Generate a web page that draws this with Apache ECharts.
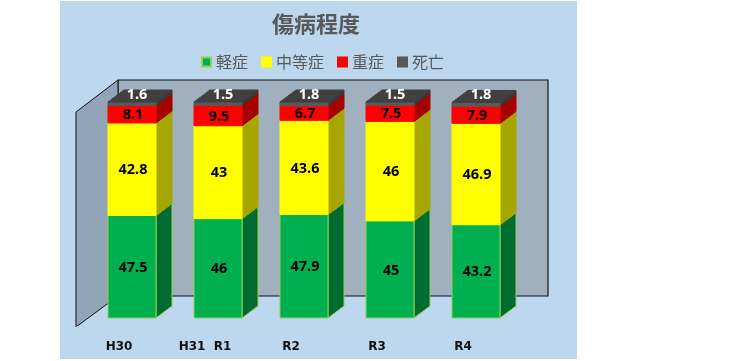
<!DOCTYPE html>
<html><head><meta charset="utf-8">
<style>html,body{margin:0;padding:0;background:#fff}#c{width:732px;height:361px}</style>
<script src="https://cdn.jsdelivr.net/npm/echarts@6/dist/echarts.min.js"></script>
</head><body><div id="c"></div>
<script>
var categories = ['H30', 'H31  R1', 'R2', 'R3', 'R4'];
var seriesNames = ['軽症', '中等症', '重症', '死亡'];
var mild = [47.5, 46, 47.9, 45, 43.2];
var moderate = [42.8, 43, 43.6, 46, 46.9];
var severe = [8.1, 9.5, 6.7, 7.5, 7.9];
var death = [1.6, 1.5, 1.8, 1.5, 1.8];
var values = [mild, moderate, severe, death];
var frontColors = ['#00B050', '#FFFF00', '#FF0000', '#595959'];
var sideColors = ['#006C31', '#A6A600', '#A60000', '#383838'];
var borderColors = ['#92D050', '#FFFF00', '#FF0000', '#595959'];
var labelColors = ['#000', '#000', '#000', '#fff'];

var BAR_W = 48, DX = 16, DY = 12, BAR_SHIFT = 13;
var font = '"Noto Sans CJK JP","Noto Sans",sans-serif';

function poly(points, fill, stroke, z) {
  return { type: 'polygon', z2: z || 0, shape: { points: points },
    style: { fill: fill, stroke: stroke || fill, lineWidth: 1 } };
}
function barRender(si) {
  return function (params, api) {
    var idx = api.value(0), base = api.value(2), top = base + api.value(1);
    var c0 = api.coord([idx, base]), c1 = api.coord([idx, top]);
    var x0 = Math.round(c0[0] + BAR_SHIFT - BAR_W / 2), x1 = x0 + BAR_W, yb = c0[1], yt = c1[1];
    var children = [
      poly([[x1, yb], [x1 + DX, yb - DY], [x1 + DX, yt - DY], [x1, yt]], sideColors[si], si === 0 ? borderColors[0] : sideColors[si]),
      poly([[x0, yb], [x1, yb], [x1, yt], [x0, yt]], frontColors[si], borderColors[si])
    ];
    var last = si === values.length - 1;
    if (last) {
      children.push(poly([[x0, yt], [x1, yt], [x1 + DX, yt - DY], [x0 + DX, yt - DY]], '#404040', '#404040'));
    }
    children.push({
      type: 'text', z2: 5,
      style: {
        text: String(api.value(1)),
        x: last ? (x0 + x1) / 2 + 5 : (x0 + x1) / 2 + 1,
        y: last ? yt - 7.5 : (yb + yt) / 2 + 1,
        align: 'center', verticalAlign: 'middle',
        fill: labelColors[si],
        font: 'bold 14.5px "Noto Sans",sans-serif'
      }
    });
    return { type: 'group', children: children };
  };
}
function wallRender(params, api) {
  var cs = params.coordSys;
  var L = cs.x, R = cs.x + cs.width, T = cs.y, B = cs.y + cs.height;
  var backOffX = 42, backOffY = -22, frontOffY = 9;
  var bl = L + backOffX, br = R + backOffX, bt = T + backOffY, bb = B + backOffY;
  var fl = L, ft = T + frontOffY + 1, fb = B + frontOffY;
  return { type: 'group', children: [
    { type: 'rect', shape: { x: bl, y: bt, width: br - bl, height: bb - bt },
      style: { fill: '#A1B0BF', stroke: '#111', lineWidth: 1.2 } },
    poly([[fl, ft], [bl, bt], [bl, bb], [fl, fb]], '#92A5B8', '#111'),
    { type: 'line', shape: { x1: fl, y1: fb, x2: R, y2: fb }, style: { stroke: '#CDD3DA', lineWidth: 1 } }
  ] };
}

var series = [{ type: 'custom', silent: true, coordinateSystem: 'cartesian2d', data: [[0, 0]], renderItem: wallRender, z: 1 }];
values.forEach(function (arr, si) {
  series.push({
    type: 'custom', name: seriesNames[si], z: 2 + si, silent: true,
    coordinateSystem: 'cartesian2d',
    itemStyle: { color: frontColors[si], borderColor: si === 0 ? borderColors[0] : frontColors[si], borderWidth: 1 },
    encode: { x: 0, y: 1 },
    data: arr.map(function (v, i) {
      var base = 0;
      for (var k = 0; k < si; k++) base += values[k][i];
      return [i, v, base];
    }),
    renderItem: barRender(si)
  });
});

var chart = echarts.init(document.getElementById('c'), null, { renderer: 'canvas' });
chart.setOption({
  animation: false,
  backgroundColor: '#fff',
  graphic: [{ type: 'rect', z: -10, silent: true, shape: { x: 60, y: 1, width: 517, height: 358 }, style: { fill: '#BDD7EE' } }],
  title: {
    text: '傷病程度', left: 267, top: 8,
    textStyle: { color: '#595959', fontSize: 22, fontWeight: 'bold', fontFamily: font }
  },
  legend: {
    left: 196, top: 49, itemWidth: 9, itemHeight: 9, itemGap: 13, icon: 'rect',
    data: seriesNames, selectedMode: false,
    textStyle: { color: '#595959', fontSize: 16, fontFamily: font }
  },
  grid: { left: 76, top: 102, width: 430, height: 216 },
  xAxis: {
    type: 'category', data: categories,
    axisLine: { show: false }, axisTick: { show: false }, splitLine: { show: false },
    axisLabel: { color: '#111', fontSize: 12, fontWeight: 'bold', fontFamily: '"DejaVu Sans",sans-serif',
      margin: 23, interval: 0 }
  },
  yAxis: { type: 'value', min: 0, max: 100, show: false },
  series: series
});
</script></body></html>
